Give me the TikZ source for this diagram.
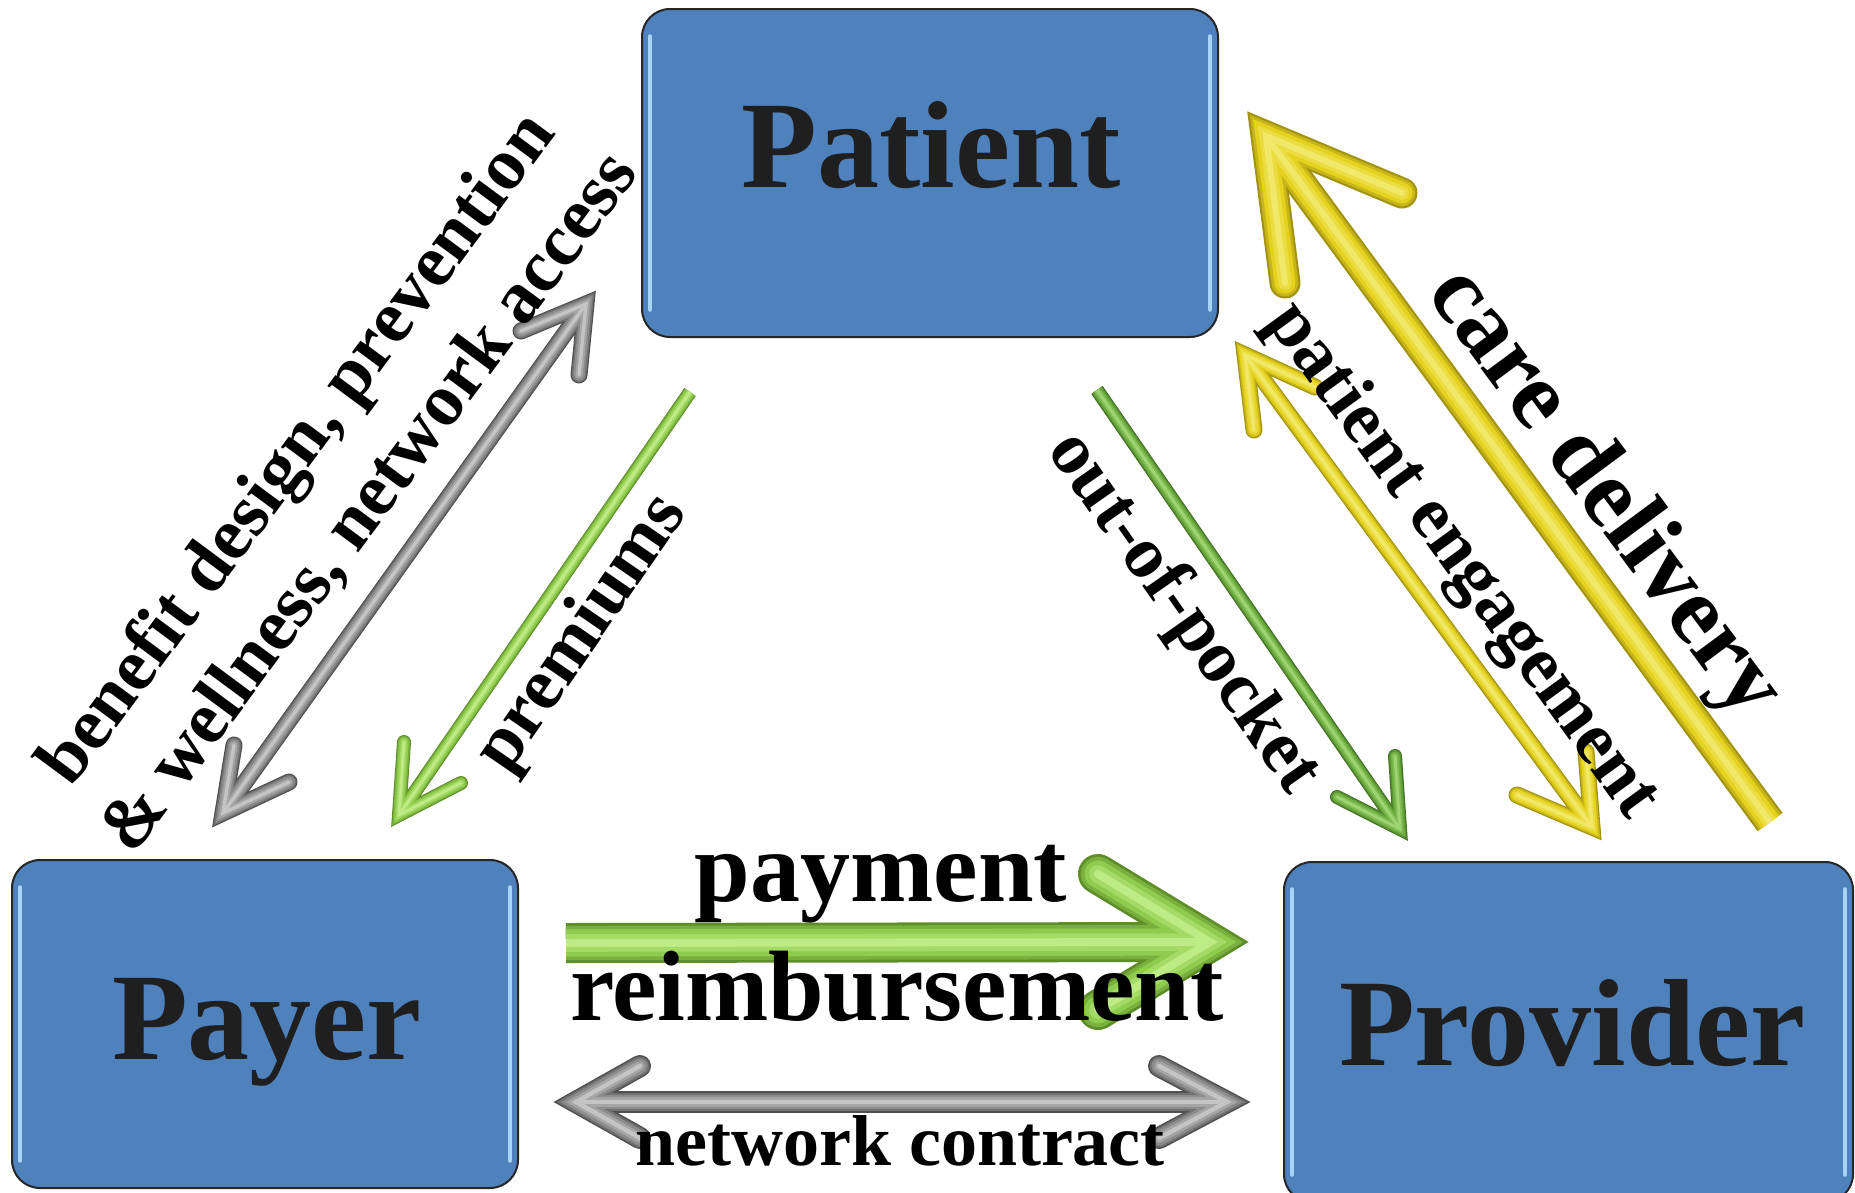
\documentclass[tikz,border=0pt]{standalone}
\usepackage{fontspec}
\setmainfont{Liberation Serif}
\usetikzlibrary{calc}
\definecolor{boxblue}{HTML}{4F81BD}
\definecolor{boxhl}{HTML}{A9D2F7}
\definecolor{boxtxt}{HTML}{1F1F1F}
\definecolor{grayD}{HTML}{505050}
\definecolor{grayM}{HTML}{8C8C8C}
\definecolor{grayL}{HTML}{C4C4C4}
\definecolor{lgreenD}{HTML}{5E8E2A}
\definecolor{lgreenM}{HTML}{8FCB4C}
\definecolor{lgreenL}{HTML}{BDEB86}
\definecolor{dgreenD}{HTML}{426F24}
\definecolor{dgreenM}{HTML}{6CAB3E}
\definecolor{dgreenL}{HTML}{9FD472}
\definecolor{yelD}{HTML}{A39312}
\definecolor{yelM}{HTML}{E4D21F}
\definecolor{yelL}{HTML}{F1E86A}
% #1 colour prefix, #2 width, #3 barb path, #4 shaft path
\newcommand\tubelayer[5]{%
  \draw[#1, line width=#2*#3pt, line cap=round, line join=miter] #4;
  \draw[#1, line width=#2*#3pt, line cap=butt] #5;
}
\newcommand\tubearrow[4]{%
  \tubelayer{#1D}{1}{#2}{#3}{#4}
  \tubelayer{#1D!45!#1M}{0.86}{#2}{#3}{#4}
  \tubelayer{#1M}{0.68}{#2}{#3}{#4}
  \tubelayer{#1M!55!#1L}{0.44}{#2}{#3}{#4}
  \tubelayer{#1L}{0.2}{#2}{#3}{#4}
}
\tikzset{
  box/.style={draw=black!85, line width=2pt, fill=boxblue, rounded corners=28pt, inner sep=0pt},
  boxhlline/.style={boxhl, line width=3.5pt, line cap=round},
  boxlabel/.style={font=\fontsize{124}{130}\selectfont\bfseries, text=boxtxt, inner sep=0pt, anchor=base},
  lbl/.style={font=\fontsize{#1}{#1}\selectfont\bfseries, text=black, inner sep=0pt},
}
\begin{document}
\begin{tikzpicture}[x=1pt,y=-1pt]
\useasboundingbox (0,0) rectangle (1855,1192);
\clip (0,0) rectangle (1855,1192);
\fill[white] (0,0) rectangle (1855,1192);

% boxes
\node[box, minimum width=576pt, minimum height=328pt] (patient) at (930,173) {};
\node[box, minimum width=506pt, minimum height=328pt] (payer) at (265,1024) {};
\node[box, minimum width=569pt, minimum height=340pt] (provider) at (1568.5,1032) {};
\foreach \b in {patient,payer,provider}{
  \draw[boxhlline] ($(\b.north west)+(9,28)$) -- ($(\b.south west)+(9,-28)$);
  \draw[boxhlline] ($(\b.north east)+(-9,28)$) -- ($(\b.south east)+(-9,-28)$);
}
\node[boxlabel] (patienttxt) at (931,187) {Patient};
\node[boxlabel] (payertxt) at (267,1059) {Payer};
\node[boxlabel] (providertxt) at (1572,1065) {Provider};

% arrow coordinates
\coordinate (cdT) at (1770,822);
\coordinate (cdP) at (1266,136);
\coordinate (cdB1) at (1402,193);
\coordinate (cdB2) at (1285,283);
\coordinate (peP1) at (1245,355);
\coordinate (peB1) at (1254,430);
\coordinate (peB2) at (1315,387);
\coordinate (peP2) at (1592,827);
\coordinate (peB3) at (1586,752);
\coordinate (peB4) at (1517,795);
\coordinate (opT) at (1097,390);
\coordinate (opP) at (1400,829);
\coordinate (opB1) at (1395,756);
\coordinate (opB2) at (1337,797);
\coordinate (prT) at (690,392);
\coordinate (prP) at (399,815);
\coordinate (prB1) at (404,742);
\coordinate (prB2) at (461,783);
\coordinate (gdP1) at (586,304);
\coordinate (gdB1) at (521,331);
\coordinate (gdB2) at (579,375);
\coordinate (gdP2) at (223,813);
\coordinate (gdB3) at (234,745);
\coordinate (gdB4) at (289,782);
\coordinate (pmT) at (566,943);
\coordinate (pmP) at (1210,942);
\coordinate (pmB1) at (1098,874);
\coordinate (pmB2) at (1098,1010);
\coordinate (ncP1) at (576,1102);
\coordinate (ncB1) at (640,1066);
\coordinate (ncB2) at (640,1138);
\coordinate (ncP2) at (1227,1102);
\coordinate (ncB3) at (1159,1066);
\coordinate (ncB4) at (1159,1138);

% arrows
\tubearrow{gray}{17}{(gdB1) -- (gdP1) -- (gdB2) (gdB3) -- (gdP2) -- (gdB4)}{(gdP1) -- (gdP2)}
\tubearrow{lgreen}{14}{(prB1) -- (prP) -- (prB2)}{(prT) -- (prP)}
\tubearrow{dgreen}{14}{(opB1) -- (opP) -- (opB2)}{(opT) -- (opP)}
\tubearrow{yel}{17}{(peB1) -- (peP1) -- (peB2) (peB3) -- (peP2) -- (peB4)}{(peP1) -- (peP2)}
\tubearrow{yel}{31}{(cdB1) -- (cdP) -- (cdB2)}{(cdT) -- (cdP)}
\tubearrow{lgreen}{40}{(pmB1) -- (pmP) -- (pmB2)}{(pmT) -- (pmP)}
\tubearrow{gray}{22}{(ncB1) -- (ncP1) -- (ncB2) (ncB3) -- (ncP2) -- (ncB4)}{(ncP1) -- (ncP2)}

% labels
\node[lbl=100, anchor=base] (payment) at (881,901) {payment};
\node[lbl=100, anchor=base] (reimb) at (897,1020) {reimbursement};
\node[lbl=72, anchor=base] (netc) at (900,1165) {network contract};
\node[lbl=97, rotate=-53.5] (care) at (1603,494) {care delivery};
\node[lbl=74, rotate=-54] (engage) at (1461,561) {patient engagement};
\node[lbl=74, rotate=-55] (oop) at (1183,613) {out-of-pocket};
\node[lbl=74, rotate=55.5] (prem) at (583,634) {premiums};
\node[lbl=74, rotate=53.5, align=center, font=\fontsize{74}{90}\selectfont\bfseries] (benefit) at (334,476) {benefit design, prevention\\\& wellness, network access};
\end{tikzpicture}
\end{document}
